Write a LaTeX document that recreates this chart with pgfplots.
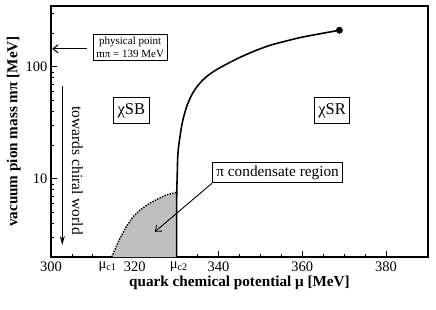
\documentclass[border=0pt]{standalone}
\usepackage{pgfplots}
\pgfplotsset{compat=1.18}
\usepackage{fontspec}
\setmainfont{Liberation Serif}
\usetikzlibrary{arrows.meta}

\begin{document}
\begin{tikzpicture}
\begin{semilogyaxis}[
 scale only axis, width=377pt, height=251pt,
 xmin=300, xmax=390, ymin=2, ymax=350,
 axis line style={line width=1.2pt},
 tick pos=left, tick align=inside,
 major tick length=6pt, minor tick length=3.5pt,
 every tick/.style={black, line width=0.8pt},
 xtick={300,320,340,360,380},
 xticklabels={300,320,340,360,380},
 minor x tick num=3,
 extra x ticks={313.5,330.5},
 extra x tick labels={μ\textsubscript{c1}, μ\textsubscript{c2}},
 extra x tick style={major tick length=0pt},
 ytick={10,100}, yticklabels={10,100},
 minor ytick={2,3,...,9,20,30,...,90,200,300},
 tick label style={font=\fontsize{14.5}{16}\selectfont},
 xticklabel style={yshift=-1.5pt},
 xlabel={quark chemical potential μ [MeV]},
 ylabel={vacuum pion mass mπ [MeV]},
 label style={font=\fontsize{15.2}{17}\selectfont\bfseries},
 xlabel style={at={(axis description cs:0.5,-0.104)}, anchor=center},
 ylabel style={at={(axis description cs:-0.099,0.5)}, anchor=center},
 clip=false,
]
\addplot[fill=black!25, draw=none] coordinates {
 (314.5,2.0) (315.5,2.45) (316.5,2.96) (318,3.75) (319.6,4.59) (321.5,5.35)
 (323.6,6.05) (325.5,6.6) (327.6,7.2) (330,7.55) (330,2)} -- cycle;
\addplot[line width=1.4pt, dash pattern=on 1.4pt off 1.3pt] coordinates {
 (314.5,2.0) (315.5,2.45) (316.5,2.96) (318,3.75) (319.6,4.59) (321.5,5.35)
 (323.6,6.05) (325.5,6.6) (327.6,7.2) (330,7.55)};
\addplot[line width=1.6pt, smooth] coordinates {
 (330,2) (330,6.48) (330.14,10.86) (330.28,16.4) (330.69,22.4) (331.40,32.4)
 (332.48,45.2) (333.91,59.0) (335.58,71.9) (337.49,83.9) (339.64,95.0)
 (342.03,106.4) (345.13,121.7) (348.72,139.2) (352.30,155.9) (355.88,169.3)
 (359.46,182.7) (364.24,197.7) (368.85,212.5)};
\addplot[only marks, mark=*, mark size=3.2pt] coordinates {(368.85,212.5)};

\node[draw, line width=0.8pt, fill=white, inner xsep=4pt, inner ysep=6pt,
 font=\fontsize{16.5}{18}\selectfont] at (axis cs:319.2,40.8) {χSB};
\node[draw, line width=0.8pt, fill=white, inner xsep=4pt, inner ysep=6pt,
 font=\fontsize{16.5}{18}\selectfont] at (axis cs:367.1,40.8) {χSR};
\node[draw, line width=0.8pt, fill=white, inner sep=3pt, align=center,
 font=\fontsize{11}{12.5}\selectfont] at (axis cs:318.9,150) {physical point\\mπ = 139 MeV};
\draw[line width=1pt, -{Straight Barb[length=5pt,width=8pt]}] (axis cs:308.5,145) -- (axis cs:300.3,145);
\node[draw, line width=0.8pt, fill=white, inner xsep=4pt, inner ysep=3.5pt,
 font=\fontsize{15.3}{17}\selectfont] (pc) at (axis cs:354.1,11.4) {π condensate region};
\draw[line width=0.9pt, -{Straight Barb[length=5pt,width=8pt]}] (pc.south west) -- (axis cs:324.8,3.36);
\draw[line width=1pt, -{Stealth[length=9pt,width=5pt]}] (axis cs:302.7,66.8) -- (axis cs:302.7,2.56);
\node[rotate=-90, font=\fontsize{15.5}{17}\selectfont] at (axis cs:306.3,11.8) {towards chiral world};
\end{semilogyaxis}
\pgfresetboundingbox
\path[use as bounding box] (current axis.south west) ++(-51pt,-52pt) rectangle ++(436pt,309pt);
\end{tikzpicture}
\end{document}
